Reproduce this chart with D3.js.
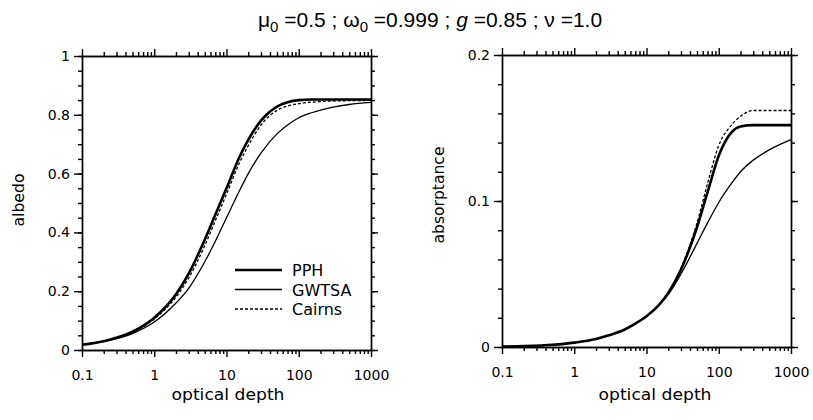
<!DOCTYPE html>
<html lang="en">
<head>
<meta charset="UTF-8">
<title>Albedo and absorptance vs optical depth</title>
<script src="https://d3js.org/d3.v7.min.js"></script>
<style>
    body { margin: 0; background: #fff; }
    svg { display: block; font-family: "DejaVu Sans", sans-serif; }
    .axis path, .axis line { stroke: #000; stroke-width: 1.4; }
    .axis text { font-family: "DejaVu Sans", sans-serif; font-size: 14px; fill: #000; }
</style>
</head>
<body>
<div id="chart"></div>
<script>
// optical depth sample points (shared by all curves)
const tau = [0.1, 0.2, 0.5, 1, 2, 3, 5, 7, 10, 15, 20, 30, 50, 70, 100, 150, 200, 300, 500, 1000];

// albedo (left panel)
const albedoPPH    = [0.018, 0.03, 0.062, 0.11, 0.19, 0.26, 0.375, 0.46, 0.55, 0.655, 0.715, 0.78, 0.828, 0.843, 0.85, 0.852, 0.852, 0.852, 0.852, 0.852];
const albedoGWTSA  = [0.018, 0.029, 0.056, 0.095, 0.16, 0.21, 0.30, 0.37, 0.45, 0.54, 0.60, 0.67, 0.735, 0.765, 0.79, 0.807, 0.816, 0.826, 0.835, 0.842];
const albedoCairns = [0.018, 0.03, 0.06, 0.105, 0.18, 0.245, 0.355, 0.44, 0.53, 0.635, 0.695, 0.765, 0.815, 0.83, 0.838, 0.843, 0.845, 0.847, 0.848, 0.849];

// absorptance (right panel)
const absPPH    = [0.0003, 0.0006, 0.0015, 0.003, 0.0055, 0.008, 0.012, 0.016, 0.021, 0.029, 0.037, 0.053, 0.082, 0.106, 0.131, 0.147, 0.151, 0.152, 0.152, 0.152];
const absGWTSA  = [0.0003, 0.0006, 0.0015, 0.003, 0.0055, 0.008, 0.012, 0.016, 0.021, 0.029, 0.036, 0.05, 0.071, 0.085, 0.099, 0.112, 0.12, 0.128, 0.135, 0.142];
const absCairns = [0.0003, 0.0006, 0.0015, 0.003, 0.0055, 0.008, 0.012, 0.016, 0.021, 0.029, 0.037, 0.054, 0.085, 0.112, 0.138, 0.152, 0.158, 0.162, 0.162, 0.162];

// axis ticks
const xMajor = [0.1, 1, 10, 100, 1000];
const albedoTicks = [0, 0.2, 0.4, 0.6, 0.8, 1];
const absTicks = [0, 0.1, 0.2];

const seriesNames = ["PPH", "GWTSA", "Cairns"];
const styles = {
    PPH:    { width: 2.6, dash: null },
    GWTSA:  { width: 1.3, dash: null },
    Cairns: { width: 1.3, dash: "3,2" }
};

const svg = d3.select("#chart").append("svg")
    .attr("width", 813)
    .attr("height", 420);

// minor log ticks 2..9 in every decade
const xMinor = [];
[0.1, 1, 10, 100].forEach(d => {
    for (let k = 2; k <= 9; k++) xMinor.push(d * k);
});

function panel(opts) {
    const x = d3.scaleLog().domain([0.1, 1000]).range([opts.left, opts.right]);
    const y = d3.scaleLinear().domain([0, opts.ymax]).range([opts.bottom, opts.top]);
    const g = svg.append("g");

    const yMinor = d3.range(0, opts.ymax + 1e-9, opts.minorStep);

    // bottom axis
    g.append("g").attr("class", "axis")
        .attr("transform", `translate(0,${opts.bottom})`)
        .call(d3.axisBottom(x).tickValues(xMinor).tickSize(4).tickFormat("").tickSizeOuter(0));
    g.append("g").attr("class", "axis")
        .attr("transform", `translate(0,${opts.bottom})`)
        .call(d3.axisBottom(x).tickValues(xMajor).tickSize(7).tickPadding(13)
            .tickFormat(d => String(d)).tickSizeOuter(0));
    // top axis
    g.append("g").attr("class", "axis")
        .attr("transform", `translate(0,${opts.top})`)
        .call(d3.axisTop(x).tickValues(xMinor).tickSize(4).tickFormat("").tickSizeOuter(0));
    g.append("g").attr("class", "axis")
        .attr("transform", `translate(0,${opts.top})`)
        .call(d3.axisTop(x).tickValues(xMajor).tickSize(7).tickFormat("").tickSizeOuter(0));
    // left axis
    g.append("g").attr("class", "axis")
        .attr("transform", `translate(${opts.left},0)`)
        .call(d3.axisLeft(y).tickValues(yMinor).tickSize(4).tickFormat("").tickSizeOuter(0));
    g.append("g").attr("class", "axis")
        .attr("transform", `translate(${opts.left},0)`)
        .call(d3.axisLeft(y).tickValues(opts.yTicks).tickSize(8).tickPadding(4)
            .tickFormat(d => String(d)).tickSizeOuter(0));
    // right axis
    g.append("g").attr("class", "axis")
        .attr("transform", `translate(${opts.right},0)`)
        .call(d3.axisRight(y).tickValues(yMinor).tickSize(4).tickFormat("").tickSizeOuter(0));
    g.append("g").attr("class", "axis")
        .attr("transform", `translate(${opts.right},0)`)
        .call(d3.axisRight(y).tickValues(opts.yTicks).tickSize(7).tickFormat("").tickSizeOuter(0));

    g.selectAll(".axis text")
        .style("font-size", "14px")
        .style("font-family", "DejaVu Sans, sans-serif");

    // curves
    const line = d3.line()
        .x(d => x(d[0]))
        .y(d => y(d[1]))
        .curve(d3.curveMonotoneX);

    seriesNames.forEach(name => {
        const vals = opts.data[name];
        g.append("path")
            .datum(tau.map((t, i) => [t, vals[i]]))
            .attr("fill", "none")
            .attr("stroke", "#000")
            .attr("stroke-width", styles[name].width)
            .attr("stroke-dasharray", styles[name].dash)
            .attr("d", line);
    });

    // axis titles
    g.append("text")
        .attr("x", opts.xLabelX)
        .attr("y", 400)
        .attr("text-anchor", "middle")
        .attr("font-size", 15)
        .attr("textLength", 113)
        .attr("lengthAdjust", "spacingAndGlyphs")
        .text("optical depth");

    g.append("text")
        .attr("transform", `translate(${opts.yLabelX},${opts.yLabelY}) rotate(-90)`)
        .attr("text-anchor", "middle")
        .attr("font-size", 15)
        .attr("textLength", opts.yLabelLen)
        .attr("lengthAdjust", "spacingAndGlyphs")
        .text(opts.yLabel);

    return { x, y, g };
}

const left = panel({
    left: 82, right: 371, top: 56, bottom: 350,
    ymax: 1, minorStep: 0.05, yTicks: albedoTicks,
    data: { PPH: albedoPPH, GWTSA: albedoGWTSA, Cairns: albedoCairns },
    xLabelX: 228, yLabelX: 24, yLabelY: 200, yLabel: "albedo", yLabelLen: 53
});

panel({
    left: 502, right: 791, top: 55, bottom: 347,
    ymax: 0.2, minorStep: 0.02, yTicks: absTicks,
    data: { PPH: absPPH, GWTSA: absGWTSA, Cairns: absCairns },
    xLabelX: 655, yLabelX: 444, yLabelY: 195, yLabel: "absorptance", yLabelLen: 97
});

// legend (left panel)
const legend = left.g.append("g").attr("transform", "translate(235,270)");
seriesNames.forEach((name, i) => {
    const row = legend.append("g").attr("transform", `translate(0,${i * 19.5})`);
    row.append("line")
        .attr("x1", 0).attr("x2", 47)
        .attr("stroke", "#000")
        .attr("stroke-width", styles[name].width)
        .attr("stroke-dasharray", styles[name].dash);
    row.append("text")
        .attr("x", 57)
        .attr("y", 6)
        .attr("font-size", 16)
        .text(name);
});

// title
const title = svg.append("text")
    .attr("x", 258)
    .attr("y", 27)
    .attr("font-family", "Liberation Sans, Arial, sans-serif")
    .attr("font-size", 21);
title.append("tspan").text("μ");
title.append("tspan").attr("dy", 5).attr("font-size", 15).text("0");
title.append("tspan").attr("dy", -5).text(" =0.5 ; ω");
title.append("tspan").attr("dy", 5).attr("font-size", 15).text("0");
title.append("tspan").attr("dy", -5).text(" =0.999 ; ");
title.append("tspan").attr("font-style", "italic").text("g");
title.append("tspan").text(" =0.85 ; ν =1.0");
</script>
</body>
</html>
